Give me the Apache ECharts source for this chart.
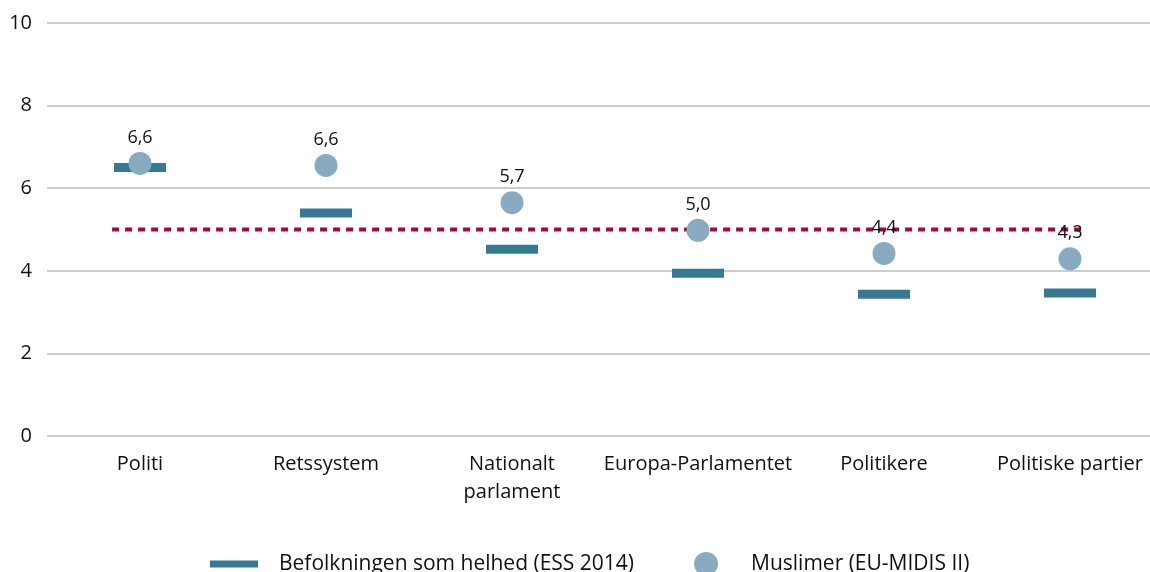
<!DOCTYPE html>
<html>
<head>
<meta charset="utf-8">
<script src="https://cdn.jsdelivr.net/npm/echarts@6/dist/echarts.min.js"></script>
<style>html,body{margin:0;padding:0;background:#fff;}#c{width:1150px;height:572px;}</style>
</head>
<body>
<div id="c"></div>
<script>
const categories = ['Politi', 'Retssystem', 'Nationalt\nparlament', 'Europa-Parlamentet', 'Politikere', 'Politiske partier'];
const essValues = [6.5, 5.4, 4.52, 3.94, 3.43, 3.46];
const muslimValues = [6.6, 6.6, 5.7, 5.0, 4.4, 4.3];
const muslimPlotted = [6.6, 6.55, 5.65, 4.98, 4.42, 4.29];
const refLineValue = 5.0;
const refLineX = [-0.15, 5.07];
const yTicks = [0, 2, 4, 6, 8, 10];
const seriesNames = ['Befolkningen som helhed (ESS 2014)', 'Muslimer (EU-MIDIS II)'];

const FONT = '"Open Sans", "Noto Sans", sans-serif';
const TXT = '#111111';
const chart = echarts.init(document.getElementById('c'));
chart.setOption({
  animation: false,
  textStyle: { fontFamily: FONT },
  grid: { left: 47, top: 23, width: 1116, height: 413, containLabel: false, outerBoundsMode: 'none' },
  legend: {
    bottom: -9,
    left: 205,
    itemGap: 60,
    itemWidth: 48,
    itemHeight: 24,
    textStyle: { fontSize: 21, color: TXT, fontFamily: FONT, padding: [0, 0, 0, 16] },
    data: [
      { name: seriesNames[0], icon: 'path://M0,8.5 L48,8.5 L48,15.5 L0,15.5 Z' },
      { name: seriesNames[1], icon: 'circle' }
    ]
  },
  xAxis: [{
    type: 'category',
    data: categories,
    axisLine: { show: false },
    axisTick: { show: false },
    axisLabel: { fontSize: 20, color: TXT, margin: 14, lineHeight: 28, fontFamily: FONT, interval: 0 }
  }, {
    type: 'value',
    min: -0.5, max: 5.5,
    show: false
  }],
  yAxis: {
    type: 'value',
    min: yTicks[0], max: yTicks[yTicks.length - 1], interval: 2,
    axisLine: { show: false },
    axisTick: { show: false },
    axisLabel: { fontSize: 20, color: TXT, margin: 15, fontFamily: FONT },
    splitLine: { lineStyle: { color: '#bdbdbd', width: 1.5 } }
  },
  series: [
    {
      name: 'ref',
      type: 'line',
      xAxisIndex: 1,
      data: refLineX.map(x => [x, refLineValue]),
      symbol: 'none',
      lineStyle: { color: '#b5003b', width: 4, type: [7, 6] },
      z: 2,
      silent: true
    },
    {
      name: seriesNames[0],
      type: 'scatter',
      data: essValues,
      symbol: 'rect',
      symbolSize: [52, 9],
      itemStyle: { color: '#357a92', opacity: 1 },
      z: 3
    },
    {
      name: seriesNames[1],
      type: 'scatter',
      data: muslimPlotted.map((v, i) => ({ value: v, label: { formatter: muslimValues[i].toFixed(1).replace('.', ',') } })),
      symbol: 'circle',
      symbolSize: 23,
      itemStyle: { color: '#88abc1', opacity: 1 },
      label: { show: true, position: 'top', distance: 5, fontSize: 18, color: TXT, fontFamily: FONT },
      z: 4
    }
  ]
});
</script>
</body>
</html>
